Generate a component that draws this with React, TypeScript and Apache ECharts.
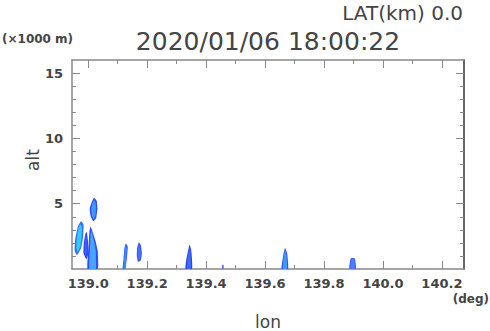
import React, { useEffect, useRef } from "react";
import * as echarts from "echarts";

const titleText = "2020/01/06 18:00:22";
const latText = "LAT(km) 0.0";
const altUnit = "(×1000 m)";
const lonUnit = "(deg)";
const xName = "lon";
const yName = "alt";

const lonMin = 138.945;
const lonMax = 140.275;
const altMin = 0;
const altMax = 16;

const lonMajor = [139.0, 139.2, 139.4, 139.6, 139.8, 140.0, 140.2];
const lonMinor = [139.1, 139.3, 139.5, 139.7, 139.9, 140.1];
const altMajor = [5, 10, 15];
const altMinor = [1, 2, 3, 4, 6, 7, 8, 9, 11, 12, 13, 14];

// echo outlines: [lon, alt(km)]
const echoShapes: number[][][] = [
  [[139.020, 5.45], [139.029, 5.2], [139.031, 4.6], [139.027, 3.9], [139.018, 3.65], [139.009, 4.0], [139.005, 4.6], [139.011, 5.05]],
  [[138.976, 3.65], [138.984, 3.4], [138.983, 2.5], [138.976, 1.6], [138.962, 1.05], [138.954, 1.4], [138.956, 2.3], [138.965, 3.25]],
  [[138.995, 2.85], [138.999, 2.2], [139.001, 1.2], [138.994, 0.75], [138.984, 1.2], [138.985, 2.0], [138.990, 2.65]],
  [[139.008, 3.25], [139.014, 2.9], [139.024, 2.2], [139.032, 1.4], [139.034, 0.4], [139.032, 0], [138.998, 0], [138.998, 0.8], [139.002, 2.0], [139.004, 2.85]],
  [[139.128, 1.95], [139.134, 1.7], [139.131, 0.8], [139.126, 0], [139.117, 0], [139.120, 0.8], [139.123, 1.6]],
  [[139.172, 2.05], [139.179, 1.8], [139.182, 1.2], [139.178, 0.65], [139.169, 0.55], [139.165, 1.0], [139.166, 1.6]],
  [[139.344, 1.85], [139.349, 1.5], [139.352, 0.8], [139.352, 0], [139.330, 0], [139.332, 0.6], [139.337, 1.2]],
  [[139.456, 0.35], [139.459, 0.3], [139.459, 0], [139.455, 0], [139.455, 0.3]],
  [[139.668, 1.6], [139.675, 1.2], [139.678, 0.5], [139.678, 0], [139.656, 0], [139.658, 0.5], [139.662, 1.1]],
  [[139.891, 0.82], [139.904, 0.82], [139.908, 0.4], [139.908, 0], [139.886, 0], [139.887, 0.4]],
];
const echoEdge = ["#2f4bff", "#3a6cff", "#2e3dff", "#2f4bff", "#3050ff", "#3050ff", "#2c3cff", "#4060ff", "#3050ff", "#4060ff"];
const echoCore = ["#3d9bf7", "#33ccee", "#3b5cff", "#45a5ff", "#3d8cf8", "#4a70ff", "#3d6af8", "#4a70ff", "#3d9bf7", "#4a80ff"];

const axisColor = "#888";
const textColor = "#444";
const font = "DejaVu Sans";

function xAxisDef(grid: number, pos: "bottom" | "top", values: number[], len: number, labels: boolean, line: boolean) {
  return {
    type: "value",
    gridIndex: grid,
    position: pos,
    min: lonMin,
    max: lonMax,
    axisLine: { show: line, onZero: false, lineStyle: { color: axisColor, width: 1.5 } },
    axisTick: { show: true, inside: true, length: len, customValues: values, lineStyle: { color: axisColor, width: 1 } },
    axisLabel: labels
      ? { show: true, customValues: values, formatter: (v: number) => v.toFixed(1), margin: 8, color: textColor, fontFamily: font, fontWeight: "bold", fontSize: 13 }
      : { show: false },
    splitLine: { show: false },
  };
}

function yAxisDef(grid: number, pos: "left" | "right", values: number[], len: number, labels: boolean, line: boolean) {
  return {
    type: "value",
    gridIndex: grid,
    position: pos,
    min: altMin,
    max: altMax,
    axisLine: { show: line, onZero: false, lineStyle: { color: pos === "right" ? "#666" : axisColor, width: pos === "right" ? 2 : 1.5 } },
    axisTick: { show: true, inside: true, length: len, customValues: values, lineStyle: { color: axisColor, width: 1 } },
    axisLabel: labels
      ? { show: true, customValues: values, margin: 9, color: textColor, fontFamily: font, fontWeight: "bold", fontSize: 13 }
      : { show: false },
    splitLine: { show: false },
  };
}

export default function App() {
  const ref = useRef<HTMLDivElement>(null);
  useEffect(() => {
    document.body.style.margin = "0";
    const chart = echarts.init(ref.current!, undefined, { renderer: "svg" });
    const gridPos = { left: 72, top: 60, right: 26, bottom: 62 };
    chart.setOption({
      animation: false,
      backgroundColor: "#fff",
      grid: [gridPos, gridPos],
      xAxis: [
        xAxisDef(0, "bottom", lonMajor, 8, true, true),
        xAxisDef(0, "top", lonMajor, 8, false, true),
        xAxisDef(1, "bottom", lonMinor, 4, false, false),
        xAxisDef(1, "top", lonMinor, 4, false, false),
      ],
      yAxis: [
        yAxisDef(0, "left", altMajor, 8, true, true),
        yAxisDef(0, "right", altMajor, 8, false, true),
        yAxisDef(1, "left", altMinor, 4, false, false),
        yAxisDef(1, "right", altMinor, 4, false, false),
      ],
      series: [
        {
          type: "custom",
          xAxisIndex: 0,
          yAxisIndex: 0,
          clip: true,
          data: echoShapes.map((s, i) => [s[0][0], s[0][1], i]),
          renderItem: (params: any, api: any) => {
            const i = api.value(2);
            const shape = echoShapes[i];
            const pts = shape.map((p) => api.coord(p));
            let cx = 0, cy = 0;
            pts.forEach((p: number[]) => { cx += p[0]; cy += p[1]; });
            cx /= pts.length; cy /= pts.length;
            const inner = pts.map((p: number[], k: number) => [
              cx + (p[0] - cx) * 0.62,
              shape[k][1] === 0 ? p[1] : cy + (p[1] - cy) * 0.82,
            ]);
            return {
              type: "group",
              children: [
                { type: "polygon", shape: { points: pts, smooth: 0.15 }, style: { fill: echoEdge[i] } },
                { type: "polygon", shape: { points: inner, smooth: 0.15 }, style: { fill: echoCore[i] } },
              ],
            };
          },
        },
      ],
      graphic: [
        { type: "text", right: 27, top: 3, style: { text: latText, fill: textColor, font: `20px '${font}'` } },
        { type: "text", left: 2, top: 33, style: { text: altUnit, fill: textColor, font: `bold 12px '${font}'` } },
        { type: "text", x: 268, y: 41, style: { text: titleText, fill: textColor, font: `25px '${font}'`, textAlign: "center", textVerticalAlign: "middle" } },
        { type: "text", right: 1, top: 293, style: { text: lonUnit, fill: textColor, font: `bold 12px '${font}'` } },
        { type: "text", x: 268, y: 322, style: { text: xName, fill: textColor, font: `17px '${font}'`, textAlign: "center", textVerticalAlign: "middle" } },
        { type: "text", x: 33, y: 160, rotation: Math.PI / 2, style: { text: yName, fill: textColor, font: `17px '${font}'`, textAlign: "center", textVerticalAlign: "middle" } },
      ],
    });
    return () => chart.dispose();
  }, []);
  return <div ref={ref} style={{ width: 490, height: 331 }} />;
}
